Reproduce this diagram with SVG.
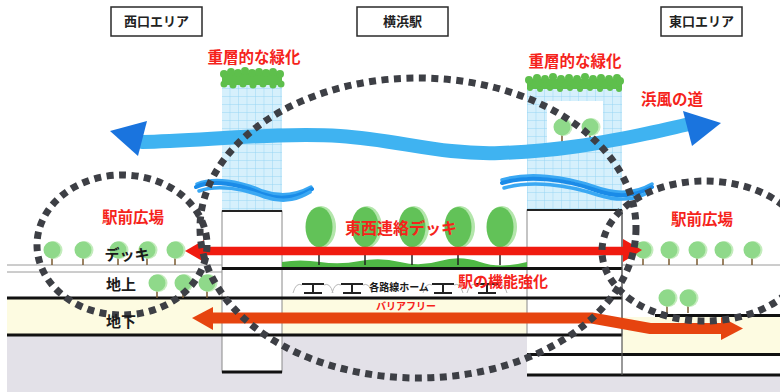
<svg xmlns="http://www.w3.org/2000/svg" xmlns:xlink="http://www.w3.org/1999/xlink" width="780" height="392" viewBox="0 0 780 392">
  <style>
    .lbl { font-family: "Liberation Sans", "Noto Sans CJK JP", sans-serif; font-weight: bold; text-anchor: middle; }
    .area { font-size: 13px; fill: #222; }
    .red { fill: #f5231b; }
    .blk { fill: #1a1a1a; }
    .box { fill: #fff; stroke: #2a2a2a; stroke-width: 1.5; }
    .slab { stroke: #111; stroke-width: 3; fill: none; }
    .thin { stroke: #9a9a9a; stroke-width: 1; fill: none; }
    .ring { fill: none; stroke: #3d3f45; stroke-width: 7; stroke-dasharray: 7 5.5; }
    .wind { fill: none; stroke: #3fb3f1; stroke-linecap: round; }
    .ripple { fill: none; stroke: #1a8be8; stroke-width: 4; stroke-linecap: round; }
    .ripple2 { fill: none; stroke: #3aa8f3; stroke-width: 3.5; stroke-linecap: round; }
    .roof { fill: #5ebf4c; }
    .plat { stroke: #222; fill: none; stroke-width: 2; }
    .arc { stroke: #b8b8b8; fill: none; stroke-width: 1; }
  </style>
  <defs>
    <pattern id="grid" width="8.5" height="8" patternUnits="userSpaceOnUse">
      <rect width="8.5" height="8" fill="#d6f0fc"/>
      <path d="M0,0H8.5M0,0V8" stroke="#92d3f3" stroke-width="0.9"/>
    </pattern>
    <g id="tree-s">
      <line x1="0" y1="6" x2="0" y2="15" stroke="#7a5a30" stroke-width="1.5"/>
      <circle cx="1.5" cy="0" r="9" fill="#c4ecbd"/>
      <circle cx="0" cy="0" r="8.5" fill="#8fd98a"/>
    </g>
    <g id="tree-l">
      <line x1="0" y1="18" x2="0" y2="38" stroke="#222" stroke-width="1.5"/>
      <ellipse cx="2" cy="0" rx="15" ry="21" fill="#b3e6ab"/>
      <ellipse cx="0" cy="0" rx="13.5" ry="20" fill="#62c258"/>
    </g>
    <g id="platform">
      <path class="arc" d="M-20,293 Q-17,282 -11,285 M11,285 Q17,282 20,293"/>
      <path class="plat" d="M-11,284 H11 M0,284 V293 M-9,293 H9"/>
    </g>
  </defs>

  <!-- ground and layers -->
  <rect x="7" y="335" width="773" height="57" fill="#e3e1e8"/>
  <rect x="7" y="299" width="615" height="36" fill="#fdfbe1"/>
  <rect x="527" y="335" width="253" height="40" fill="#fff"/>
  <rect x="622" y="317" width="158" height="36" fill="#fdfbe1"/>
  <rect x="222" y="211" width="60" height="161" fill="#fff" stroke="#8a8a8a" stroke-width="1"/>
  <rect x="527" y="210" width="95" height="125" fill="#fff" stroke="#8a8a8a" stroke-width="1"/>

  <!-- towers -->
  <g id="tower-west">
    <rect x="222" y="84" width="60" height="127" fill="url(#grid)"/>
    <g class="roof">
      <rect x="222" y="73" width="60" height="12"/>
      <circle cx="224" cy="74" r="4"/><circle cx="231" cy="72" r="4"/><circle cx="238" cy="73" r="4"/>
      <circle cx="245" cy="71" r="4"/><circle cx="252" cy="73" r="4"/><circle cx="259" cy="72" r="4"/>
      <circle cx="266" cy="73" r="4"/><circle cx="273" cy="72" r="4"/><circle cx="280" cy="74" r="4"/>
      <circle cx="224" cy="84" r="3.5"/><circle cx="233" cy="85" r="3.5"/><circle cx="243" cy="84" r="3.5"/>
      <circle cx="253" cy="85" r="3.5"/><circle cx="263" cy="84" r="3.5"/><circle cx="273" cy="85" r="3.5"/>
      <circle cx="281" cy="84" r="3.5"/>
    </g>
  </g>
  <g id="tower-east">
    <rect x="527" y="86" width="95" height="124" fill="url(#grid)"/>
    <rect x="547" y="101" width="56" height="42" fill="#fff"/>
    <g class="roof">
      <rect x="527" y="79" width="95" height="10"/>
      <circle cx="529" cy="80" r="4"/><circle cx="537" cy="78" r="4"/><circle cx="545" cy="79" r="4"/>
      <circle cx="553" cy="77" r="4"/><circle cx="561" cy="79" r="4"/><circle cx="569" cy="78" r="4"/>
      <circle cx="577" cy="79" r="4"/><circle cx="585" cy="77" r="4"/><circle cx="593" cy="79" r="4"/>
      <circle cx="601" cy="78" r="4"/><circle cx="609" cy="79" r="4"/><circle cx="617" cy="78" r="4"/>
      <circle cx="620" cy="81" r="4"/>
      <circle cx="530" cy="88" r="3"/><circle cx="540" cy="89" r="3"/><circle cx="550" cy="88" r="3"/>
      <circle cx="560" cy="89" r="3"/><circle cx="570" cy="88" r="3"/><circle cx="580" cy="89" r="3"/>
      <circle cx="590" cy="88" r="3"/><circle cx="600" cy="89" r="3"/><circle cx="610" cy="88" r="3"/>
      <circle cx="619" cy="89" r="3"/>
    </g>
    <use xlink:href="#tree-s" x="562" y="127"/>
    <use xlink:href="#tree-s" x="590" y="127"/>
  </g>

  <!-- floor slabs -->
  <g id="slabs">
    <path class="thin" d="M7,265 H222 M7,272 H222 M622,265 H780"/>
    <path d="M222,211 H282 M527,210 H622" stroke="#222" stroke-width="2"/>
    <path class="slab" d="M222,268.5 H622"/>
    <path class="slab" d="M7,298 H622"/>
    <path class="slab" d="M7,335 H622" stroke-width="3.5"/>
    <path class="slab" d="M222,372 H282" stroke-width="4"/>
    <path class="slab" d="M655,315.5 H780"/>
    <path class="slab" d="M527,354.5 H780"/>
    <path class="slab" d="M527,375 H780" stroke-width="3.5"/>
    <path d="M622,210 V375" stroke="#555" stroke-width="1.2"/>
  </g>

  <!-- deck greenery -->
  <path d="M282,262 Q300,259 320,262 T360,261 T400,262 T440,261 T480,262 T527,262 V267 H282 Z" fill="#4fb845"/>

  <g id="trees">
    <use xlink:href="#tree-l" x="319" y="227"/>
    <use xlink:href="#tree-l" x="365" y="227"/>
    <use xlink:href="#tree-l" x="412" y="227"/>
    <use xlink:href="#tree-l" x="458" y="227"/>
    <use xlink:href="#tree-l" x="500" y="227"/>
    <use xlink:href="#tree-s" x="52" y="250"/>
    <use xlink:href="#tree-s" x="83" y="250"/>
    <use xlink:href="#tree-s" x="118" y="250"/>
    <use xlink:href="#tree-s" x="147" y="250"/>
    <use xlink:href="#tree-s" x="175" y="250"/>
    <use xlink:href="#tree-s" x="157" y="283"/>
    <use xlink:href="#tree-s" x="183" y="283"/>
    <use xlink:href="#tree-s" x="207" y="283"/>
    <use xlink:href="#tree-s" x="643" y="250"/>
    <use xlink:href="#tree-s" x="669" y="250"/>
    <use xlink:href="#tree-s" x="697" y="250"/>
    <use xlink:href="#tree-s" x="723" y="250"/>
    <use xlink:href="#tree-s" x="752" y="250"/>
    <use xlink:href="#tree-s" x="667" y="298"/>
    <use xlink:href="#tree-s" x="688" y="298"/>
  </g>

  <!-- platforms -->
  <g id="platforms">
    <use xlink:href="#platform" x="313" y="0"/>
    <use xlink:href="#platform" x="352" y="0"/>
    <use xlink:href="#platform" x="443" y="0"/>
    <use xlink:href="#platform" x="487" y="0"/>
  </g>

  <!-- wind -->
  <g id="wind">
    <path class="wind" stroke-width="14" d="M142,142 C200,141 280,132 340,136 C400,140 440,155 500,153 C560,151 600,143 640,135 C660,131 675,127 690,124"/>
    <polygon points="110,131 147,121 138,156" fill="#1a74de"/>
    <polygon points="683,111 721,123 692,146" fill="#1a74de"/>
    <path class="ripple2" d="M197,184 C214,177 240,181 262,191 C284,199 300,193 311,187"/>
    <path class="ripple" d="M196,187 C212,179 240,184 262,194 C284,202 300,196 312,189"/>
    <path class="ripple2" d="M199,191 C218,184 244,189 265,197 C286,204 300,198 310,192"/>
    <path class="ripple2" d="M502,180 C528,172 565,176 595,187 C622,197 640,191 652,184"/>
    <path class="ripple" d="M502,183 C528,175 565,179 595,190 C622,200 640,194 652,187"/>
    <path class="ripple2" d="M504,188 C532,180 568,185 598,195 C624,203 640,198 650,191"/>
  </g>

  <!-- connectors -->
  <g id="connectors">
    <path d="M200,251 H626" stroke="#f01b10" stroke-width="8.5" fill="none"/>
    <polygon points="185,251 204,240 204,262" fill="#f01b10"/>
    <polygon points="642,250 623,239 623,262" fill="#f01b10"/>
    <path d="M208,318 H592 L650,328.5 H724" stroke="#e6440f" stroke-width="11" fill="none" stroke-linejoin="miter"/>
    <polygon points="192,318 213,307 213,330" fill="#e6440f"/>
    <polygon points="743,328.5 721,317 721,340" fill="#e6440f"/>
  </g>

  <!-- zones -->
  <g id="zones">
    <ellipse class="ring" cx="418" cy="228" rx="218" ry="150"/>
    <ellipse class="ring" cx="122" cy="245" rx="85" ry="70"/>
    <ellipse class="ring" cx="705" cy="251" rx="103" ry="70"/>
  </g>

  <!-- area headers -->
  <g id="west-area"><rect class="box" x="111" y="7" width="91" height="29"/><text class="lbl area" x="156.5" y="26">西口エリア</text></g>
  <g id="station"><rect class="box" x="357" y="7" width="91" height="29"/><text class="lbl area" x="402.5" y="26">横浜駅</text></g>
  <g id="east-area"><rect class="box" x="661" y="7" width="81" height="29"/><text class="lbl area" x="701.5" y="26">東口エリア</text></g>

  <!-- labels -->
  <text class="lbl red" x="254" y="63" font-size="15.5">重層的な緑化</text>
  <text class="lbl red" x="575" y="67" font-size="15.5">重層的な緑化</text>
  <text class="lbl red" x="672" y="105" font-size="15.5">浜風の道</text>
  <text class="lbl red" x="133" y="223" font-size="15.5">駅前広場</text>
  <text class="lbl red" x="702" y="225" font-size="15.5">駅前広場</text>
  <text class="lbl red" x="401" y="234" font-size="16">東西連絡デッキ</text>
  <text class="lbl red" x="503" y="287" font-size="15" fill="#f03a16">駅の機能強化</text>
  <text class="lbl red" x="406" y="310" font-size="10">バリアフリー</text>
  <text class="lbl blk" x="399" y="291" font-size="10">各路線ホーム</text>
  <text class="lbl blk" x="127" y="260" font-size="15">デッキ</text>
  <text class="lbl blk" x="121" y="290" font-size="15">地上</text>
  <text class="lbl blk" x="121" y="327" font-size="15">地下</text>
</svg>
